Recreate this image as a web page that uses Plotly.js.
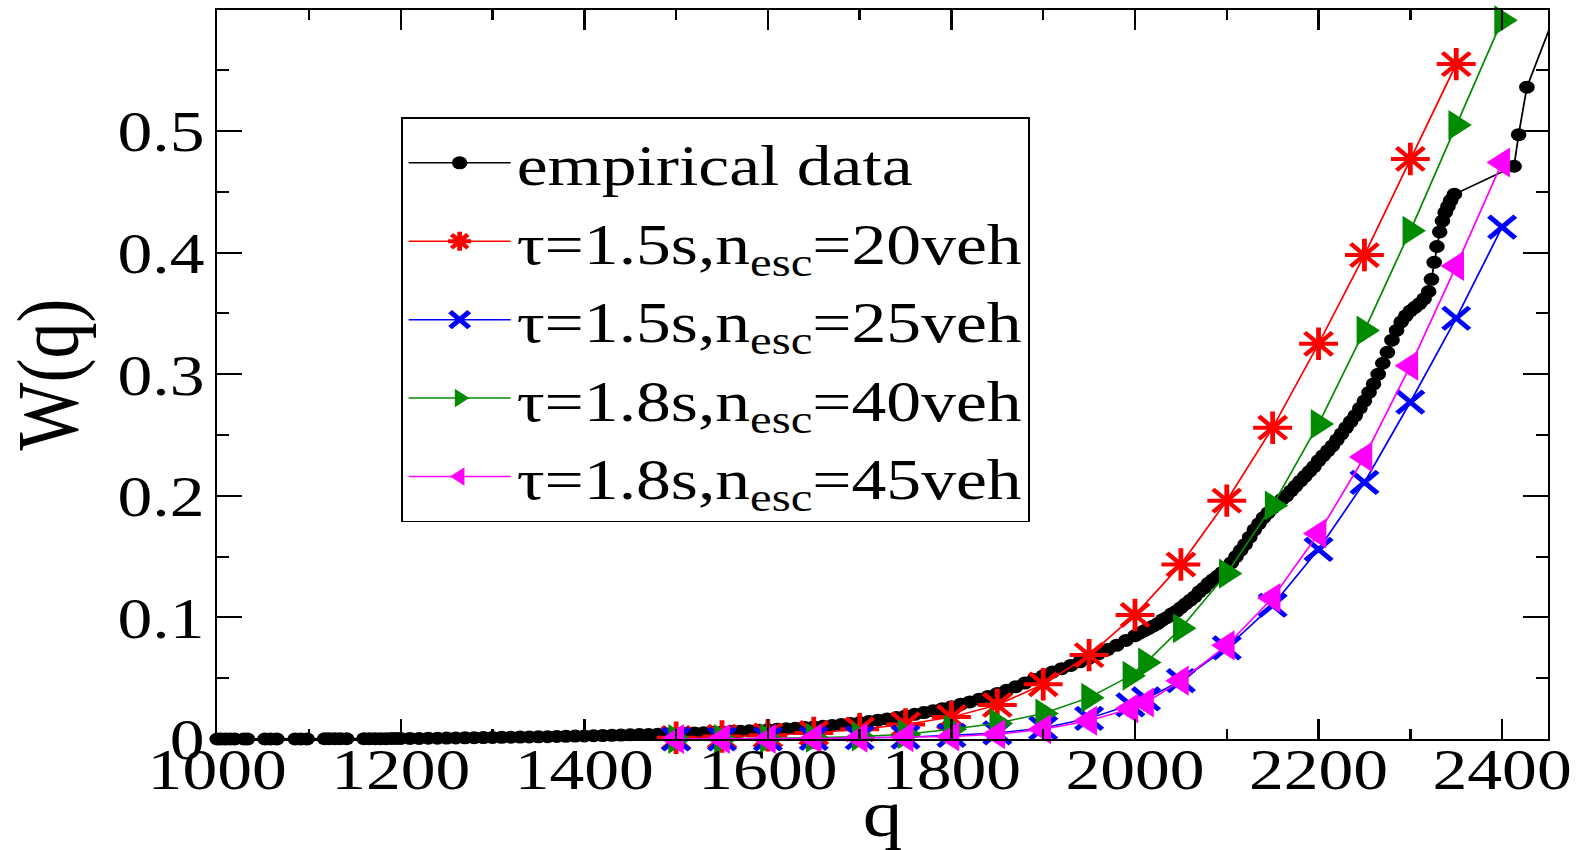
<!DOCTYPE html>
<html>
<head>
<meta charset="utf-8">
<script src="https://cdn.plot.ly/plotly-3.0.1.min.js"></script>
<style>
  html, body { margin: 0; padding: 0; background: #fff; overflow: hidden; }
  #wrap { width: 1583px; height: 850px; overflow: hidden; }
  #chart { width: 1319px; height: 850px; transform: scaleX(1.2); transform-origin: 0 0; }
</style>
</head>
<body>
<div id="wrap"><div id="chart"></div></div>
<script>
// ---- data ----
const empX = [1000, 1004, 1009, 1014, 1019, 1029, 1033, 1052, 1058, 1065, 1085, 1091, 1098, 1117, 1122, 1128, 1134, 1141, 1160, 1166, 1172, 1178, 1184, 1190, 1195,
  1200, 1210, 1220, 1230, 1240, 1250, 1260, 1270, 1280, 1290, 1300, 1310, 1320, 1330, 1340, 1350, 1360, 1370, 1380, 1390,
  1400, 1410, 1420, 1430, 1440, 1450, 1460, 1470, 1480, 1490, 1500, 1510, 1520, 1530, 1540, 1550, 1560, 1570, 1580, 1590,
  1600, 1610, 1620, 1630, 1640, 1650, 1660, 1670, 1680, 1690, 1700, 1710, 1720, 1730, 1740, 1750, 1760, 1770, 1780, 1790,
  1800, 1810, 1820, 1830, 1840, 1850, 1860, 1870, 1880, 1890, 1900, 1910, 1920, 1930, 1940, 1950, 1960, 1970, 1980, 1990,
  2000, 2005, 2010, 2015, 2020, 2025, 2030, 2035, 2040, 2045, 2050, 2055, 2060, 2065, 2070, 2075, 2080, 2085, 2090, 2095,
  2100, 2105, 2110, 2115, 2120, 2125, 2130, 2135, 2140, 2145, 2150, 2155, 2160, 2165, 2170, 2175, 2180, 2185, 2190, 2195,
  2200, 2205, 2210, 2215, 2220, 2225, 2230, 2235, 2240, 2245, 2250, 2255, 2260, 2265, 2270, 2275, 2280, 2285, 2290, 2295,
  2300, 2305, 2310, 2315, 2320, 2323, 2326, 2329, 2332, 2335, 2338, 2341, 2344, 2348, 2413, 2418, 2427, 2475];
const empY = [0, 0, 0, 0, 0, 0, 0, 0, 0, 0, 0.0001, 0.0001, 0.0001, 0.0002, 0.0002, 0.0002, 0.0002, 0.0002, 0.0003, 0.0003, 0.0003, 0.0003, 0.0003, 0.0004, 0.0004,
  0.0004, 0.0005, 0.0005, 0.0006, 0.0007, 0.0008, 0.0009, 0.0010, 0.0011, 0.0012, 0.0013, 0.0014, 0.0015, 0.0016, 0.0017, 0.0018, 0.0019, 0.0021, 0.0022, 0.0024,
  0.0025, 0.0027, 0.0028, 0.0030, 0.0032, 0.0034, 0.0036, 0.0038, 0.0040, 0.0042, 0.0044, 0.0047, 0.0050, 0.0052, 0.0055, 0.0058, 0.0061, 0.0064, 0.0068, 0.0072,
  0.0076, 0.0080, 0.0084, 0.0089, 0.0094, 0.0099, 0.0105, 0.0112, 0.0119, 0.0127, 0.0135, 0.0144, 0.0155, 0.0165, 0.0177, 0.0190, 0.0203, 0.0217, 0.0232, 0.0248,
  0.0265, 0.0285, 0.0305, 0.0327, 0.0350, 0.0375, 0.0400, 0.0430, 0.0460, 0.0490, 0.0520, 0.0550, 0.0578, 0.0605, 0.0635, 0.0665, 0.0700, 0.0735, 0.0770, 0.0810,
  0.085, 0.087, 0.089, 0.091, 0.093, 0.095, 0.098, 0.100, 0.103, 0.105, 0.108, 0.111, 0.114, 0.117, 0.121, 0.124, 0.128, 0.131, 0.134, 0.137,
  0.140, 0.145, 0.150, 0.155, 0.160, 0.166, 0.172, 0.177, 0.182, 0.186, 0.190, 0.194, 0.197, 0.200, 0.204, 0.208, 0.212, 0.216, 0.220, 0.224,
  0.229, 0.233, 0.237, 0.241, 0.246, 0.251, 0.256, 0.261, 0.266, 0.272, 0.278, 0.285, 0.292, 0.300, 0.309, 0.318, 0.328, 0.336, 0.343, 0.348,
  0.352, 0.355, 0.358, 0.362, 0.368, 0.378, 0.392, 0.405, 0.417, 0.426, 0.433, 0.438, 0.443, 0.448, 0.471, 0.497, 0.536, 0.630];

const redX = [1500, 1550, 1600, 1650, 1700, 1750, 1800, 1850, 1900, 1950, 2000, 2050, 2100, 2150, 2200, 2250, 2300, 2350];
const redY = [0.001, 0.002, 0.003, 0.005, 0.008, 0.012, 0.018, 0.028, 0.045, 0.069, 0.102, 0.1435, 0.196, 0.256, 0.325, 0.398, 0.477, 0.555];

const modelX = [1500, 1550, 1600, 1650, 1700, 1750, 1800, 1850, 1900, 1950, 1995, 2012, 2050, 2100, 2150, 2200, 2250, 2300, 2350, 2400];
const blueY = [0, 0, 0, 0.0005, 0.001, 0.0015, 0.003, 0.005, 0.009, 0.017, 0.028, 0.033, 0.048, 0.075, 0.110, 0.156, 0.211, 0.277, 0.346, 0.421];
const greenY = [0, 0, 0.0005, 0.001, 0.002, 0.004, 0.008, 0.013, 0.021, 0.034, 0.052, 0.063, 0.091, 0.136, 0.192, 0.259, 0.336, 0.418, 0.505, 0.591];
const magentaY = [0, 0, 0, 0.0005, 0.001, 0.0015, 0.002, 0.004, 0.008, 0.015, 0.025, 0.030, 0.048, 0.077, 0.116, 0.169, 0.232, 0.307, 0.389, 0.474];

const names = ['empirical data',
  'τ=1.5s,n<sub>esc</sub>=20veh',
  'τ=1.5s,n<sub>esc</sub>=25veh',
  'τ=1.8s,n<sub>esc</sub>=40veh',
  'τ=1.8s,n<sub>esc</sub>=45veh'];

// ---- chart ----
const FONT = 'Liberation Serif, Times New Roman, serif';
const traces = [
  { x: empX, y: empY, name: names[0], mode: 'lines+markers', cliponaxis: false,
    line: { color: '#000', width: 1.5 }, marker: { symbol: 'circle', size: 13, color: '#000' } },
  { x: redX, y: redY, name: names[1], mode: 'lines+markers', cliponaxis: false,
    line: { color: '#ff0000', width: 1.5 },
    marker: { symbol: 'asterisk-open', size: 27, color: '#ff0000', line: { color: '#ff0000', width: 4 } } },
  { x: modelX, y: blueY, name: names[2], mode: 'lines+markers', cliponaxis: false,
    line: { color: '#0000ff', width: 1.5 },
    marker: { symbol: 'x-thin-open', size: 22, color: '#0000ff', line: { color: '#0000ff', width: 4.5 } } },
  { x: modelX, y: greenY, name: names[3], mode: 'lines+markers', cliponaxis: false,
    line: { color: '#008b00', width: 1.5 },
    marker: { symbol: 'triangle-right', size: 26, color: '#008b00' } },
  { x: modelX, y: magentaY, name: names[4], mode: 'lines+markers', cliponaxis: false,
    line: { color: '#ff00ff', width: 1.5 },
    marker: { symbol: 'triangle-left', size: 26, color: '#ff00ff' } }
];

const axisCommon = {
  showgrid: false, zeroline: false, showline: true, linecolor: '#000', linewidth: 2,
  mirror: 'ticks', ticks: 'inside', tickwidth: 2, tickcolor: '#000',
  tickfont: { family: FONT, size: 58, color: '#000' }
};

const layout = {
  width: 1319, height: 850,
  margin: { l: 181, r: 29, t: 10, b: 111 },
  paper_bgcolor: '#fff', plot_bgcolor: '#fff',
  font: { family: FONT, color: '#000' },
  showlegend: true,
  legend: {
    x: 0.138, y: 0.853, xanchor: 'left', yanchor: 'top',
    bgcolor: '#fff', bordercolor: '#000', borderwidth: 1.5,
    font: { family: FONT, size: 58, color: '#000' },
    itemwidth: 85, tracegroupgap: 0
  },
  xaxis: Object.assign({}, axisCommon, {
    range: [1000, 2450], dtick: 200, tick0: 1000, ticklen: 20,
    minor: { dtick: 100, ticklen: 10, ticks: 'inside', tickwidth: 2, tickcolor: '#000', showgrid: false },
    ticklabelstandoff: -22,
    title: { text: 'q', font: { family: FONT, size: 66, color: '#000' }, standoff: 22 }
  }),
  yaxis: Object.assign({}, axisCommon, {
    range: [0, 0.5995], dtick: 0.1, tick0: 0, ticklen: 21,
    minor: { dtick: 0.05, ticklen: 10, ticks: 'inside', tickwidth: 2, tickcolor: '#000', showgrid: false },
    ticklabelstandoff: -3,
    title: { text: 'W(q)', font: { family: FONT, size: 72, color: '#000' }, standoff: 29 }
  })
};

Plotly.newPlot('chart', traces, layout, { displayModeBar: false, staticPlot: true });
</script>
</body>
</html>
